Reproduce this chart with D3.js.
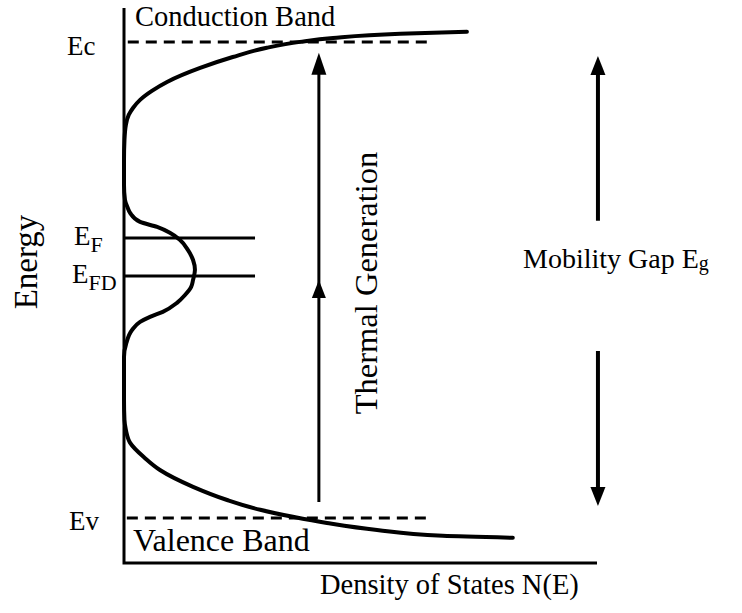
<!DOCTYPE html>
<html>
<head>
<meta charset="utf-8">
<script src="https://cdn.jsdelivr.net/npm/d3@7"></script>
<style>
  html, body { margin: 0; padding: 0; background: #fff; }
  svg { display: block; }
  text { font-family: "Liberation Serif", "Times New Roman", serif; fill: #000; }
</style>
</head>
<body>
<svg id="chart" width="742" height="613"></svg>
<script>
// ---- Data (energy in eV, Ev = 0; density of states in arbitrary units 0-100) ----
const dosEnergy = [1.736, 1.729, 1.714, 1.700, 1.679, 1.646, 1.607, 1.557, 1.525, 1.493, 1.464, 1.439, 1.404, 1.350, 1.279, 1.189,
  1.136, 1.111, 1.089, 1.057, 1.039, 1.018, 0.993, 0.957, 0.921, 0.886, 0.850, 0.825, 0.796, 0.768, 0.736, 0.718, 0.700, 0.671, 0.625, 0.575, 0.421,
  0.350, 0.314, 0.268, 0.214, 0.171, 0.111, 0.064, 0.029, 0.004, -0.018, -0.043, -0.064, -0.071];
const dosValue = [72.5, 58.4, 44.2, 37.2, 30.2, 23.0, 16.1, 9.1, 5.9, 3.4, 1.9, 1.0, 0.4, 0.1, 0.0, 0.0,
  0.2, 0.7, 1.3, 3.4, 7.0, 9.7, 11.8, 13.5, 14.6, 15.0, 14.6, 14.2, 12.9, 11.2, 8.2, 5.5, 3.4, 1.7, 0.5, 0.0, 0.0,
  0.1, 0.4, 1.3, 4.4, 7.6, 14.6, 21.8, 28.8, 35.7, 42.9, 53.5, 67.4, 82.2];

const levelNames = ["Ec", "Ev"];
const levelEnergy = [1.70, 0.0];
const levelExtent = [[0.8, 64.3], [0.6, 65.1]];

const fermiNames = ["F", "FD"];
const fermiEnergy = [1.0, 0.864];
const fermiExtent = [0, 27.7];

const thermalX = 41.2;
const thermalFrom = 0.057, thermalTo = 1.661, thermalMid = 0.85;

const gapX = 100.2;
const gapUpFrom = 1.061, gapUpTo = 1.65;
const gapDownFrom = 0.596, gapDownTo = 0.043;

const axisEnergy = [-0.161, 1.821];
const axisDos = [0, 100];

// ---- Scales ----
const svg = d3.select("#chart");
const x = d3.scaleLinear().domain(axisDos).range([124, 597]);
const y = d3.scaleLinear().domain(axisEnergy).range([563, 8]);

// ---- Axes ----
svg.append("path")
  .attr("d", d3.line()([[x(0), y(axisEnergy[1])], [x(0), y(axisEnergy[0])], [x(axisDos[1]), y(axisEnergy[0])]]))
  .attr("fill", "none").attr("stroke", "#000").attr("stroke-width", 3);

// ---- Band edges (dashed) ----
levelEnergy.forEach((e, i) => {
  svg.append("line")
    .attr("x1", x(levelExtent[i][0])).attr("x2", x(levelExtent[i][1]))
    .attr("y1", y(e)).attr("y2", y(e))
    .attr("stroke", "#000").attr("stroke-width", 3)
    .attr("stroke-dasharray", "11,7");
});

// ---- Fermi levels ----
fermiEnergy.forEach(e => {
  svg.append("line")
    .attr("x1", x(fermiExtent[0])).attr("x2", x(fermiExtent[1]))
    .attr("y1", y(e)).attr("y2", y(e))
    .attr("stroke", "#000").attr("stroke-width", 3);
});

// ---- DOS curve ----
const pts = dosEnergy.map((e, i) => [x(dosValue[i]), y(e)]);
svg.append("path")
  .attr("d", d3.line().curve(d3.curveMonotoneY)(pts))
  .attr("fill", "none").attr("stroke", "#000").attr("stroke-width", 4)
  .attr("stroke-linejoin", "round").attr("stroke-linecap", "round");

// ---- Arrows ----
function arrowHead(px, py, dir, w, h) {
  return d3.line()([[px, py], [px - w / 2, py - dir * h], [px + w / 2, py - dir * h]]) + "Z";
}
svg.append("line")
  .attr("x1", x(thermalX)).attr("x2", x(thermalX))
  .attr("y1", y(thermalFrom)).attr("y2", y(thermalTo) + 10)
  .attr("stroke", "#000").attr("stroke-width", 3);
svg.append("path").attr("d", arrowHead(x(thermalX), y(thermalTo), -1, 15, 22)).attr("fill", "#000");
svg.append("path").attr("d", arrowHead(x(thermalX), y(thermalMid), -1, 14, 18)).attr("fill", "#000");

svg.append("line")
  .attr("x1", x(gapX)).attr("x2", x(gapX))
  .attr("y1", y(gapUpFrom)).attr("y2", y(gapUpTo) + 10)
  .attr("stroke", "#000").attr("stroke-width", 4);
svg.append("path").attr("d", arrowHead(x(gapX), y(gapUpTo), -1, 15, 19)).attr("fill", "#000");
svg.append("line")
  .attr("x1", x(gapX)).attr("x2", x(gapX))
  .attr("y1", y(gapDownFrom)).attr("y2", y(gapDownTo) - 10)
  .attr("stroke", "#000").attr("stroke-width", 4);
svg.append("path").attr("d", arrowHead(x(gapX), y(gapDownTo), 1, 15, 19)).attr("fill", "#000");

// ---- Text ----
svg.append("text").attr("x", 135).attr("y", 26).attr("font-size", 28.5).text("Conduction Band");
svg.append("text").attr("x", 133).attr("y", 551).attr("font-size", 32).text("Valence Band");
svg.append("text").attr("x", 320).attr("y", 594).attr("font-size", 28.5).text("Density of States N(E)");
svg.append("text").attr("transform", "translate(37,262) rotate(-90)")
  .attr("text-anchor", "middle").attr("font-size", 33).text("Energy");
svg.append("text").attr("transform", "translate(377,283) rotate(-90)")
  .attr("text-anchor", "middle").attr("font-size", 32.5).text("Thermal Generation");

const mg = svg.append("text").attr("x", 523).attr("y", 268).attr("font-size", 28);
mg.append("tspan").text("Mobility Gap E");
mg.append("tspan").attr("font-size", 20).attr("dy", 2).text("g");

svg.append("text").attr("x", 67).attr("y", y(levelEnergy[0]) + 13).attr("font-size", 27).text(levelNames[0]);
svg.append("text").attr("x", 69).attr("y", y(levelEnergy[1]) + 12).attr("font-size", 27).text(levelNames[1]);

const efx = [74, 72];
fermiEnergy.forEach((e, i) => {
  const t = svg.append("text").attr("x", efx[i]).attr("y", y(e) + 7).attr("font-size", 27);
  t.append("tspan").text("E");
  t.append("tspan").attr("font-size", 22).attr("dy", 7).text(fermiNames[i]);
});
</script>
</body>
</html>
